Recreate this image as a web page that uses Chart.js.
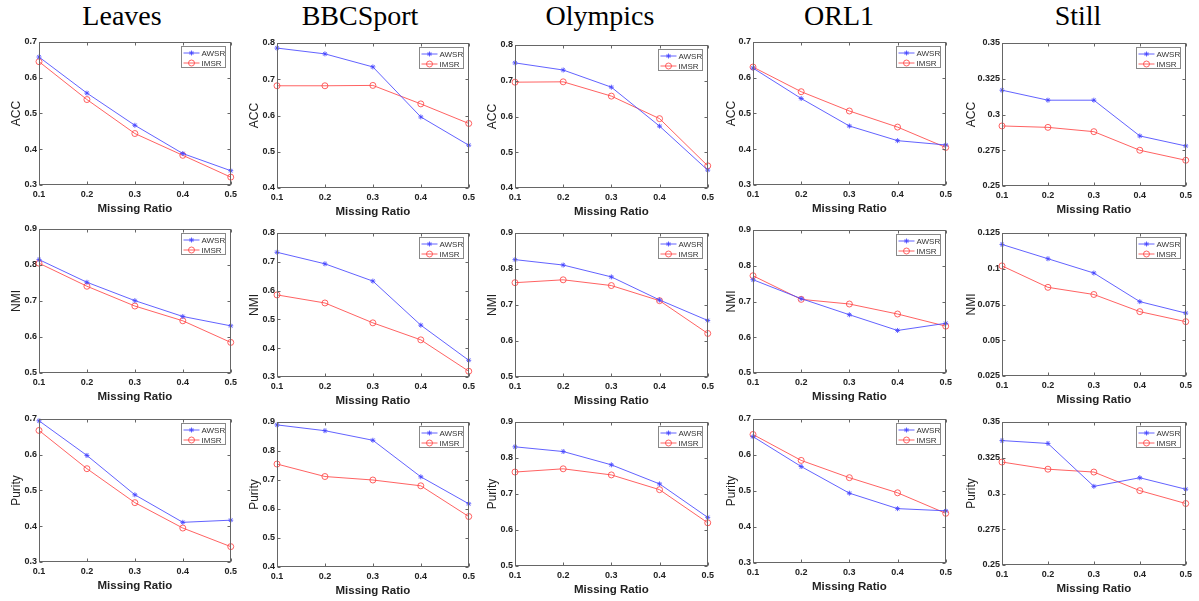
<!DOCTYPE html>
<html lang="en">
<head>
    <meta charset="UTF-8">
    <title>AWSR vs IMSR under missing ratios</title>
    <script src="https://cdn.jsdelivr.net/npm/chart.js"></script>
    <style>
        html, body { margin: 0; padding: 0; background: #fff; }
        body { width: 1199px; height: 601px; position: relative; overflow: hidden; }
        .ds-title {
            position: absolute;
            top: 0;
            width: 200px;
            margin-left: -100px;
            text-align: center;
            font-family: "Liberation Serif", "DejaVu Serif", serif;
            font-size: 28px;
            line-height: 32px;
            color: #000;
        }
        .cell { position: absolute; }
    </style>
</head>
<body>
<script>
    // ---- data ----
    const ratios = ['0.1', '0.2', '0.3', '0.4', '0.5'];
    const dataNames = ['Leaves', 'BBCSport', 'Olympics', 'ORL1', 'Still'];
    const metrics = ['ACC', 'NMI', 'Purity'];

    const awsrAcc = [
        [0.658, 0.557, 0.467, 0.388, 0.340],
        [0.786, 0.770, 0.734, 0.596, 0.518],
        [0.750, 0.730, 0.682, 0.573, 0.450],
        [0.627, 0.542, 0.465, 0.424, 0.412],
        [0.317, 0.310, 0.310, 0.285, 0.278]
    ];
    const imsrAcc = [
        [0.645, 0.539, 0.444, 0.383, 0.322],
        [0.682, 0.682, 0.683, 0.632, 0.578],
        [0.696, 0.697, 0.657, 0.594, 0.462],
        [0.630, 0.561, 0.507, 0.462, 0.405],
        [0.292, 0.291, 0.288, 0.275, 0.268]
    ];
    const awsrNmi = [
        [0.815, 0.752, 0.701, 0.657, 0.631],
        [0.733, 0.693, 0.633, 0.480, 0.358],
        [0.826, 0.811, 0.778, 0.714, 0.657],
        [0.761, 0.708, 0.663, 0.619, 0.639],
        [0.117, 0.107, 0.097, 0.077, 0.069]
    ];
    const imsrNmi = [
        [0.805, 0.741, 0.686, 0.645, 0.585],
        [0.585, 0.557, 0.488, 0.429, 0.320],
        [0.762, 0.770, 0.754, 0.712, 0.621],
        [0.772, 0.706, 0.693, 0.665, 0.631],
        [0.102, 0.087, 0.082, 0.070, 0.063]
    ];
    const awsrPurity = [
        [0.695, 0.598, 0.488, 0.411, 0.417],
        [0.890, 0.870, 0.837, 0.711, 0.618],
        [0.831, 0.818, 0.781, 0.728, 0.635],
        [0.651, 0.568, 0.494, 0.451, 0.445],
        [0.337, 0.335, 0.305, 0.311, 0.303]
    ];
    const imsrPurity = [
        [0.668, 0.561, 0.466, 0.395, 0.343],
        [0.755, 0.712, 0.700, 0.680, 0.574],
        [0.761, 0.770, 0.753, 0.712, 0.620],
        [0.657, 0.585, 0.537, 0.495, 0.438],
        [0.322, 0.317, 0.315, 0.302, 0.293]
    ];

    // y axis ticks [min, max, step] per dataset
    const accTicks = [[0.3, 0.7, 0.1], [0.4, 0.8, 0.1], [0.4, 0.8, 0.1], [0.3, 0.7, 0.1], [0.25, 0.35, 0.025]];
    const nmiTicks = [[0.5, 0.9, 0.1], [0.3, 0.8, 0.1], [0.5, 0.9, 0.1], [0.5, 0.9, 0.1], [0.025, 0.125, 0.025]];
    const purityTicks = [[0.3, 0.7, 0.1], [0.4, 0.9, 0.1], [0.5, 0.9, 0.1], [0.3, 0.7, 0.1], [0.25, 0.35, 0.025]];

    const awsr = [awsrAcc, awsrNmi, awsrPurity];
    const imsr = [imsrAcc, imsrNmi, imsrPurity];
    const yTicks = [accTicks, nmiTicks, purityTicks];

    // ---- layout (plot boxes in page pixels) ----
    const colLeft = [39, 277, 515, 753, 1002];
    const colRight = [231, 469, 708, 946, 1186];
    const rowTop = [[42, 43, 45, 42, 43], [229, 233, 233, 230, 233], [419, 422, 422, 419, 422]];
    const rowBottom = [[185, 188, 188, 185, 186], [373, 377, 377, 373, 376], [562, 567, 566, 563, 565]];
    const titleCenter = [122, 360, 600, 839, 1078];
    const yAxisWidth = [39, 39, 39, 38, 47];

    const XH = 34, PAD_T = 8, PAD_R = 10;
    const BLUE = 'rgba(70,70,255,0.85)';
    const RED = 'rgba(255,70,70,0.85)';
    const SANS = '"Liberation Sans", Arial, sans-serif';

    // axes box with inward ticks, MATLAB style
    const frame = {
        id: 'frame',
        afterDraw(chart) {
            const {ctx, chartArea: a, scales} = chart;
            const L = Math.round(a.left) + 0.5, R = Math.round(a.right) - 0.5;
            const T = Math.round(a.top) + 0.5, B = Math.round(a.bottom) - 0.5;
            ctx.save();
            ctx.strokeStyle = '#666';
            ctx.lineWidth = 1;
            ctx.strokeRect(L, T, R - L, B - T);
            ctx.beginPath();
            scales.y.ticks.forEach(t => {
                const y = Math.round(scales.y.getPixelForValue(t.value)) + 0.5;
                ctx.moveTo(L, y); ctx.lineTo(L + 3, y);
                ctx.moveTo(R, y); ctx.lineTo(R - 3, y);
            });
            scales.x.ticks.forEach((t, i) => {
                const x = Math.round(scales.x.getPixelForTick(i)) + 0.5;
                ctx.moveTo(x, B); ctx.lineTo(x, B - 3);
                ctx.moveTo(x, T); ctx.lineTo(x, T + 3);
            });
            ctx.stroke();
            ctx.restore();
        }
    };

    function marker(ctx, style, x, y, color) {
        ctx.strokeStyle = color;
        ctx.lineWidth = 1;
        ctx.beginPath();
        if (style === 'circle') {
            ctx.arc(x, y, 3, 0, Math.PI * 2);
        } else {
            const r = 2.5;
            ctx.moveTo(x - r, y); ctx.lineTo(x + r, y);
            ctx.moveTo(x, y - r); ctx.lineTo(x, y + r);
            ctx.moveTo(x - r * 0.7, y - r * 0.7); ctx.lineTo(x + r * 0.7, y + r * 0.7);
            ctx.moveTo(x - r * 0.7, y + r * 0.7); ctx.lineTo(x + r * 0.7, y - r * 0.7);
        }
        ctx.stroke();
    }

    // small boxed legend in the top right corner of the plot
    const boxLegend = {
        id: 'boxLegend',
        afterDraw(chart) {
            const {ctx, chartArea: a} = chart;
            const bw = 44, bh = 21;
            const x0 = Math.round(a.right - 6 - bw) + 0.5, y0 = Math.round(a.top + 4) + 0.5;
            ctx.save();
            ctx.fillStyle = '#fff';
            ctx.fillRect(x0, y0, bw, bh);
            ctx.strokeStyle = '#888';
            ctx.lineWidth = 1;
            ctx.strokeRect(x0, y0, bw, bh);
            chart.data.datasets.forEach((ds, i) => {
                const y = y0 + 6.5 + i * 10;
                ctx.strokeStyle = ds.borderColor;
                ctx.beginPath();
                ctx.moveTo(x0 + 2, y); ctx.lineTo(x0 + 18, y);
                ctx.stroke();
                marker(ctx, ds.pointStyle, x0 + 10, y, ds.borderColor);
                ctx.fillStyle = '#333';
                ctx.font = '8px ' + SANS;
                ctx.textBaseline = 'middle';
                ctx.fillText(ds.label, x0 + 20, y + 0.5);
            });
            ctx.restore();
        }
    };

    dataNames.forEach((name, c) => {
        const t = document.createElement('div');
        t.className = 'ds-title';
        t.style.left = titleCenter[c] + 'px';
        t.textContent = name;
        document.body.appendChild(t);
    });

    metrics.forEach((metric, r) => {
        dataNames.forEach((name, c) => {
            const YW = yAxisWidth[c];
            const pw = colRight[c] - colLeft[c];
            const ph = rowBottom[r][c] - rowTop[r][c];
            const w = pw + YW + PAD_R, h = ph + PAD_T + XH;
            const cell = document.createElement('div');
            cell.className = 'cell';
            cell.style.left = (colLeft[c] - YW) + 'px';
            cell.style.top = (rowTop[r][c] - PAD_T) + 'px';
            const canvas = document.createElement('canvas');
            canvas.width = w;
            canvas.height = h;
            canvas.style.width = w + 'px';
            canvas.style.height = h + 'px';
            cell.appendChild(canvas);
            document.body.appendChild(cell);

            const [yMin, yMax, yStep] = yTicks[r][c];
            const tickFont = {family: SANS, size: 9, weight: 'bold'};

            new Chart(canvas.getContext('2d'), {
                type: 'line',
                data: {
                    labels: ratios,
                    datasets: [{
                        label: 'AWSR',
                        data: awsr[r][c],
                        borderColor: BLUE,
                        backgroundColor: BLUE,
                        borderWidth: 1,
                        pointStyle: 'star',
                        pointRadius: 2.5,
                        pointBorderWidth: 1,
                        tension: 0,
                        clip: false
                    }, {
                        label: 'IMSR',
                        data: imsr[r][c],
                        borderColor: RED,
                        backgroundColor: 'rgba(0,0,0,0)',
                        borderWidth: 1,
                        pointStyle: 'circle',
                        pointRadius: 3,
                        pointBorderWidth: 1,
                        tension: 0,
                        clip: false
                    }]
                },
                options: {
                    responsive: false,
                    animation: false,
                    layout: {padding: {top: PAD_T, right: PAD_R, left: 0, bottom: 0}},
                    plugins: {
                        legend: {display: false},
                        tooltip: {enabled: false}
                    },
                    scales: {
                        x: {
                            offset: false,
                            grid: {display: false, drawTicks: false},
                            border: {display: false},
                            ticks: {color: '#222', font: tickFont, padding: 4, maxRotation: 0, autoSkip: false},
                            title: {
                                display: true,
                                text: 'Missing Ratio',
                                color: '#222',
                                font: {family: SANS, size: 11.5, weight: 'bold'},
                                padding: {top: 0, bottom: 3}
                            },
                            afterFit(scale) { scale.height = XH; }
                        },
                        y: {
                            min: yMin,
                            max: yMax,
                            grid: {display: false, drawTicks: false},
                            border: {display: false},
                            ticks: {
                                stepSize: yStep,
                                color: '#222',
                                font: tickFont,
                                padding: 2,
                                callback: v => String(+v.toFixed(4))
                            },
                            title: {
                                display: true,
                                text: metric,
                                color: '#222',
                                font: {family: SANS, size: 12},
                                padding: {top: 9, bottom: 0}
                            },
                            afterFit(scale) { scale.width = YW; }
                        }
                    }
                },
                plugins: [frame, boxLegend]
            });
        });
    });
</script>
</body>
</html>
